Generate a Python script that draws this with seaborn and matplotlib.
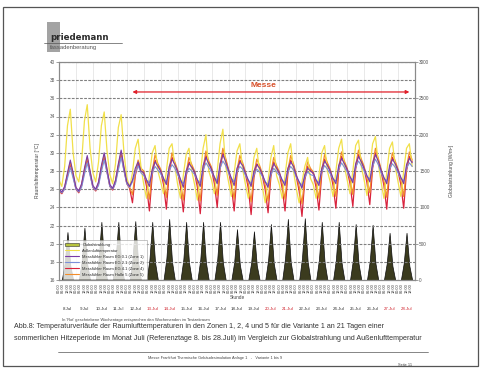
import matplotlib
matplotlib.use("Agg")
import matplotlib.pyplot as plt
import matplotlib.transforms as mtransforms
from matplotlib.patches import Patch, Rectangle
from matplotlib.lines import Line2D
import numpy as np
import pandas as pd
import seaborn as sns

# --------------------------------------------------------------------------- #
# Data: one row per day, samples at 0, 4, 8, 12, 16, 20 h
# --------------------------------------------------------------------------- #
SAMPLE_HOURS = [0, 4, 8, 12, 16, 20]

DAY_LABELS = ["8.Jul", "9.Jul", "10.Jul", "11.Jul", "12.Jul", "13.Jul", "14.Jul",
              "15.Jul", "16.Jul", "17.Jul", "18.Jul", "19.Jul", "20.Jul", "21.Jul",
              "22.Jul", "23.Jul", "24.Jul", "25.Jul", "26.Jul", "27.Jul", "28.Jul"]
WEEKEND = [False, False, False, False, False, True, True,
           False, False, False, False, False, True, True,
           False, False, False, False, False, True, True]

radiation = [
    [0, 0, 230, 660, 200, 0], [0, 0, 250, 720, 215, 0], [0, 0, 280, 800, 240, 0],
    [0, 0, 280, 800, 240, 0], [0, 0, 285, 810, 245, 0], [0, 0, 280, 800, 240, 0],
    [0, 0, 295, 840, 250, 0], [0, 0, 280, 800, 240, 0], [0, 0, 280, 800, 240, 0],
    [0, 0, 280, 800, 240, 0], [0, 0, 245, 700, 210, 0], [0, 0, 235, 670, 200, 0],
    [0, 0, 270, 770, 230, 0], [0, 0, 295, 840, 250, 0], [0, 0, 300, 850, 255, 0],
    [0, 0, 280, 800, 240, 0], [0, 0, 280, 800, 240, 0], [0, 0, 270, 770, 230, 0],
    [0, 0, 265, 760, 230, 0], [0, 0, 230, 650, 195, 0], [0, 0, 230, 650, 195, 0],
]

outside = [
    [27.0, 26.3, 28.5, 33.0, 34.8, 30.0], [27.5, 26.8, 29.0, 33.5, 35.3, 30.5],
    [27.8, 26.8, 29.0, 33.0, 34.5, 30.2], [27.6, 26.6, 28.8, 32.8, 34.2, 30.0],
    [27.3, 26.2, 27.8, 30.5, 31.5, 28.5], [26.5, 25.0, 27.5, 30.0, 30.8, 28.0],
    [26.8, 25.5, 28.0, 30.5, 31.0, 28.5], [26.5, 25.0, 27.5, 29.8, 30.5, 28.0],
    [26.5, 24.8, 27.5, 30.5, 32.0, 28.0], [27.0, 25.5, 28.0, 31.0, 32.6, 28.5],
    [26.8, 25.2, 27.8, 30.2, 31.0, 28.2], [26.5, 25.0, 27.0, 29.5, 30.5, 27.8],
    [26.2, 24.5, 27.0, 29.5, 30.8, 27.5], [26.5, 25.0, 27.5, 30.0, 31.0, 28.0],
    [26.0, 24.5, 26.8, 28.5, 29.5, 27.2], [26.5, 25.0, 27.5, 30.0, 30.8, 28.0],
    [26.8, 25.2, 28.0, 30.5, 31.5, 28.5], [27.0, 25.5, 28.0, 30.8, 31.4, 28.5],
    [27.0, 25.3, 28.2, 31.0, 31.8, 28.8], [26.8, 25.0, 27.8, 30.5, 31.2, 28.5],
    [26.8, 25.2, 28.0, 30.5, 31.0, 28.5],
]

zone1 = [
    [26.0, 25.7, 26.3, 27.8, 29.2, 27.8], [26.2, 25.8, 26.6, 28.3, 29.7, 28.0],
    [26.4, 26.0, 26.8, 28.6, 30.0, 28.2], [26.5, 26.1, 27.0, 28.8, 30.3, 28.4],
    [26.8, 26.3, 27.0, 28.3, 29.0, 28.0], [27.8, 27.0, 26.3, 28.2, 29.0, 28.5],
    [28.0, 27.2, 26.5, 28.5, 29.3, 28.7], [28.0, 27.1, 26.2, 28.0, 28.8, 28.4],
    [27.9, 27.0, 26.3, 28.6, 29.5, 28.8], [28.2, 27.3, 26.6, 28.8, 29.8, 29.0],
    [28.1, 27.2, 26.4, 28.3, 29.0, 28.6], [27.8, 27.0, 26.3, 28.0, 28.7, 28.3],
    [27.6, 26.8, 26.2, 28.0, 28.8, 28.3], [27.8, 27.0, 26.4, 28.3, 29.0, 28.5],
    [27.5, 26.8, 26.1, 27.6, 28.3, 28.0], [27.8, 27.0, 26.4, 28.3, 29.1, 28.6],
    [28.0, 27.2, 26.6, 28.6, 29.4, 28.8], [28.2, 27.4, 26.7, 28.8, 29.6, 29.0],
    [28.3, 27.5, 26.8, 28.9, 29.8, 29.1], [28.1, 27.3, 26.6, 28.6, 29.3, 28.8],
    [28.1, 27.3, 26.6, 28.7, 29.4, 28.9],
]

zone2 = [
    [25.9, 25.6, 26.0, 27.2, 28.4, 27.2], [26.0, 25.7, 26.2, 27.6, 28.9, 27.5],
    [26.2, 25.9, 26.4, 27.9, 29.2, 27.8], [26.3, 26.0, 26.6, 28.1, 29.5, 28.0],
    [26.6, 26.2, 26.8, 27.8, 28.6, 27.8], [27.5, 27.0, 26.7, 27.8, 28.5, 28.1],
    [27.7, 27.1, 26.8, 28.0, 28.7, 28.3], [27.6, 27.0, 26.6, 27.7, 28.3, 28.0],
    [27.6, 27.0, 26.7, 28.1, 28.9, 28.4], [27.9, 27.3, 26.9, 28.3, 29.1, 28.6],
    [27.8, 27.2, 26.8, 27.9, 28.5, 28.2], [27.5, 27.0, 26.6, 27.6, 28.2, 27.9],
    [27.4, 26.8, 26.5, 27.6, 28.3, 27.9], [27.5, 27.0, 26.7, 27.9, 28.5, 28.1],
    [27.3, 26.8, 26.4, 27.3, 27.9, 27.6], [27.5, 27.0, 26.7, 27.9, 28.6, 28.2],
    [27.7, 27.1, 26.9, 28.2, 28.9, 28.4], [27.9, 27.3, 27.0, 28.4, 29.1, 28.6],
    [28.0, 27.4, 27.1, 28.5, 29.3, 28.7], [27.8, 27.2, 26.9, 28.2, 28.8, 28.4],
    [27.8, 27.2, 26.9, 28.3, 28.9, 28.5],
]

zone4 = [
    [25.8, 25.5, 26.1, 27.5, 28.8, 27.5], [26.0, 25.6, 26.4, 28.0, 29.3, 27.7],
    [26.2, 25.8, 26.6, 28.3, 29.6, 27.9], [26.3, 25.9, 26.8, 28.5, 29.9, 28.1],
    [26.6, 26.1, 24.5, 27.5, 28.8, 28.0], [27.8, 26.3, 23.6, 27.6, 29.2, 28.6],
    [28.0, 26.5, 23.8, 27.8, 29.5, 28.8], [27.9, 26.3, 23.5, 27.4, 29.0, 28.5],
    [27.8, 26.2, 23.3, 27.9, 29.7, 28.9], [28.2, 26.6, 24.0, 28.2, 30.0, 29.2],
    [28.0, 26.4, 23.6, 27.7, 29.2, 28.7], [27.7, 26.1, 23.2, 27.3, 28.8, 28.4],
    [27.5, 25.9, 23.4, 27.4, 29.0, 28.4], [27.7, 26.1, 23.6, 27.7, 29.2, 28.6],
    [27.4, 25.8, 23.0, 27.0, 28.5, 28.1], [27.7, 26.2, 23.7, 27.7, 29.3, 28.7],
    [28.0, 26.4, 23.9, 28.0, 29.6, 28.9], [28.1, 26.6, 24.1, 28.2, 29.8, 29.1],
    [28.3, 26.7, 24.3, 28.3, 30.0, 29.2], [28.0, 26.4, 23.8, 27.9, 29.5, 28.9],
    [28.0, 26.5, 23.9, 28.0, 29.6, 29.0],
]

zone5 = [
    [25.9, 25.6, 26.2, 27.6, 29.0, 27.6], [26.1, 25.7, 26.5, 28.1, 29.5, 27.9],
    [26.3, 25.9, 26.7, 28.4, 29.8, 28.1], [26.4, 26.0, 26.9, 28.6, 30.1, 28.3],
    [26.7, 26.2, 25.4, 27.8, 29.2, 28.3], [28.0, 26.8, 24.9, 28.0, 29.8, 28.8],
    [28.2, 27.0, 25.1, 28.2, 30.0, 29.0], [28.1, 26.8, 24.8, 27.8, 29.5, 28.7],
    [28.0, 26.7, 24.7, 28.3, 30.2, 29.1], [28.4, 27.1, 25.3, 28.6, 30.5, 29.4],
    [28.2, 26.9, 24.9, 28.1, 29.7, 28.9], [27.9, 26.6, 24.6, 27.7, 29.3, 28.6],
    [27.7, 26.4, 24.7, 27.8, 29.5, 28.6], [27.9, 26.6, 24.9, 28.1, 29.7, 28.8],
    [27.6, 26.3, 24.4, 27.4, 29.0, 28.3], [27.9, 26.7, 25.0, 28.1, 29.8, 28.9],
    [28.2, 26.9, 25.2, 28.4, 30.1, 29.1], [28.3, 27.1, 25.4, 28.6, 30.3, 29.3],
    [28.5, 27.2, 25.6, 28.7, 30.5, 29.4], [28.2, 26.9, 25.1, 28.3, 30.0, 29.1],
    [28.2, 27.0, 25.2, 28.4, 30.1, 29.2],
]

MESSE_START_H = 100
MESSE_END_H = 500

SERIES = [
    # key, data, colour, legend label, line width
    ("zone4", zone4, "#d9233d", "Messfühler Raum EG 4.1 (Zone 4)", 0.9),
    ("zone5", zone5, "#f28c28", "Messfühler Raum Halle 5 (Zone 5)", 0.9),
    ("outside", outside, "#f1e04a", "Außenlufttemperatur", 0.9),
    ("zone2", zone2, "#7b8fd8", "Messfühler Raum EG 2.1 (Zone 2)", 0.8),
    ("zone1", zone1, "#7a3aa8", "Messfühler Raum EG 0.1 (Zone 1)", 0.8),
]


def to_frame():
    n_days = len(DAY_LABELS)
    hours = (np.arange(n_days)[:, None] * 24 + np.array(SAMPLE_HOURS)[None, :]).ravel()
    df = pd.DataFrame({"hour": hours, "radiation": np.ravel(radiation)})
    for key, data, *_ in SERIES:
        df[key] = np.ravel(data)
    return df


df = to_frame()

sns.set_style("white")
plt.rcParams["font.family"] = ["Liberation Sans", "DejaVu Sans"]

fig = plt.figure(figsize=(4.81, 3.69), dpi=100)
W, H = 481, 369


def fx(px):
    return px / W


def fy(py):
    return 1 - py / H


# page frame
fig.patches.append(Rectangle((fx(3), fy(366)), fx(475), fy(7) - fy(366),
                             transform=fig.transFigure, fill=False,
                             edgecolor="#555555", linewidth=0.9))

# logo
fig.patches.append(Rectangle((fx(47), fy(52)), fx(13), fy(22) - fy(52),
                             transform=fig.transFigure, facecolor="#8c8c8c",
                             edgecolor="none", alpha=0.8))
fig.text(fx(50), fy(40), "priedemann", fontsize=6.2, fontweight="bold",
         color="#2b2b2b", family="DejaVu Sans")
fig.add_artist(Line2D([fx(44), fx(122)], [fy(43), fy(43)], color="#555555",
                      linewidth=0.5, transform=fig.transFigure))
fig.text(fx(50), fy(49), "fassadenberatung", fontsize=4.2, color="#555555")

# --------------------------------------------------------------------------- #
# Axes
# --------------------------------------------------------------------------- #
ax = fig.add_axes([fx(59), fy(280), fx(356), fy(62) - fy(280)])
ax2 = ax.twinx()
ax.set_zorder(ax2.get_zorder() + 1)
ax.patch.set_visible(False)

ax2.fill_between(df["hour"], 0, df["radiation"], facecolor="#3b3b1e",
                 edgecolor="#0d0d0d", linewidth=0.5)
ax2.set_ylim(0, 3000)
ax2.set_yticks(np.arange(0, 3001, 500))
ax2.tick_params(axis="y", labelsize=3.4, length=2, width=0.4, pad=1,
                colors="#555555")
ax2.set_ylabel("Globalstrahlung [W/m²]", fontsize=3.6, color="#444444",
               labelpad=14)

for key, data, color, label, lw in SERIES:
    sns.lineplot(data=df, x="hour", y=key, color=color, linewidth=lw, ax=ax,
                 legend=False)

ax.set_xlim(0, 504)
ax.set_ylim(16, 40)
ax.set_yticks(np.arange(16, 41, 2))
ax.tick_params(axis="y", labelsize=3.4, length=2, width=0.4, pad=1,
               colors="#555555")
ax.set_ylabel("Raumlufttemperatur [°C]", fontsize=3.6, color="#444444",
              labelpad=7)

hour_ticks = np.arange(0, 504, 6)
ax.set_xticks(hour_ticks)
ax.set_xticklabels([f"{h % 24:02d}:00" for h in hour_ticks], rotation=90,
                   fontsize=2.8, color="#333333")
ax.tick_params(axis="x", length=1.5, width=0.3, pad=1)
ax.set_xlabel("Stunde", fontsize=3.4, color="#444444", labelpad=1)

ax.yaxis.grid(True, color="#808080", linewidth=0.8, linestyle=(0, (2.5, 1.2)))
for d in range(1, len(DAY_LABELS)):
    ax.axvline(d * 24, color="#d8d8d8", linewidth=0.4, zorder=0)

for spine in list(ax.spines.values()) + list(ax2.spines.values()):
    spine.set_color("#8a8a8a")
    spine.set_linewidth(0.8)

# date row under the hour labels
trans = mtransforms.blended_transform_factory(ax.transData, ax.transAxes)
for i, (lab, we) in enumerate(zip(DAY_LABELS, WEEKEND)):
    ax.text(i * 24 + 12, -0.135, lab, transform=trans, ha="center", va="center",
            fontsize=3.2, color="#d0202a" if we else "#333333")

# Messe arrow
ax.annotate("", xy=(MESSE_END_H, 36.7), xytext=(MESSE_START_H, 36.7),
            arrowprops=dict(arrowstyle="<|-|>", color="#e0202a", lw=0.9,
                            mutation_scale=5))
ax.text(290, 37.0, "Messe", ha="center", va="bottom", fontsize=6,
        fontweight="bold", color="#d8502a")

# legend
handles = [Patch(facecolor="#b7c43e", edgecolor="#333333", linewidth=0.4,
                 label="Globalstrahlung")]
order = ["outside", "zone1", "zone2", "zone4", "zone5"]
lookup = {s[0]: s for s in SERIES}
for key in order:
    _, _, color, label, _ = lookup[key]
    handles.append(Line2D([0], [0], color=color, linewidth=0.8, label=label))
leg = ax.legend(handles=handles, loc="lower left", bbox_to_anchor=(0.008, 0.0),
                fontsize=2.9, frameon=True, fancybox=False, borderpad=0.6,
                handlelength=3.5, labelspacing=0.5, borderaxespad=0.2)
leg.get_frame().set_edgecolor("#9a9a9a")
leg.get_frame().set_linewidth(0.5)

# --------------------------------------------------------------------------- #
# Page texts
# --------------------------------------------------------------------------- #
fig.text(fx(62), fy(320), "In 'Rot' geschriebene Wochentage entsprechen den "
         "Wochenenden im Testzeitraum", fontsize=2.9, color="#444444",
         va="center")
fig.text(fx(14), fy(327), "Abb.8: Temperaturverläufe der Raumlufttemperaturen in den "
         "Zonen 1, 2, 4 und 5 für die Variante 1 an 21 Tagen einer",
         fontsize=5.1, color="#333333", va="center")
fig.text(fx(14), fy(339), "sommerlichen Hitzeperiode im Monat Juli (Referenztage 8. "
         "bis 28.Juli) im Vergleich zur Globalstrahlung und Außenlufttemperatur",
         fontsize=5.1, color="#333333", va="center")
fig.add_artist(Line2D([fx(58), fx(428)], [fy(352), fy(352)], color="#555555",
                      linewidth=0.5, transform=fig.transFigure))
fig.text(fx(215), fy(358), "Messe Frankfurt Thermische Gebäudesimulation Anlage 1"
         "   -   Variante 1 bis 9", fontsize=2.8, color="#444444",
         ha="center", va="center")
fig.text(fx(398), fy(365), "Seite 11", fontsize=2.8, color="#444444", va="center")

fig.savefig("out.png", dpi=100)
